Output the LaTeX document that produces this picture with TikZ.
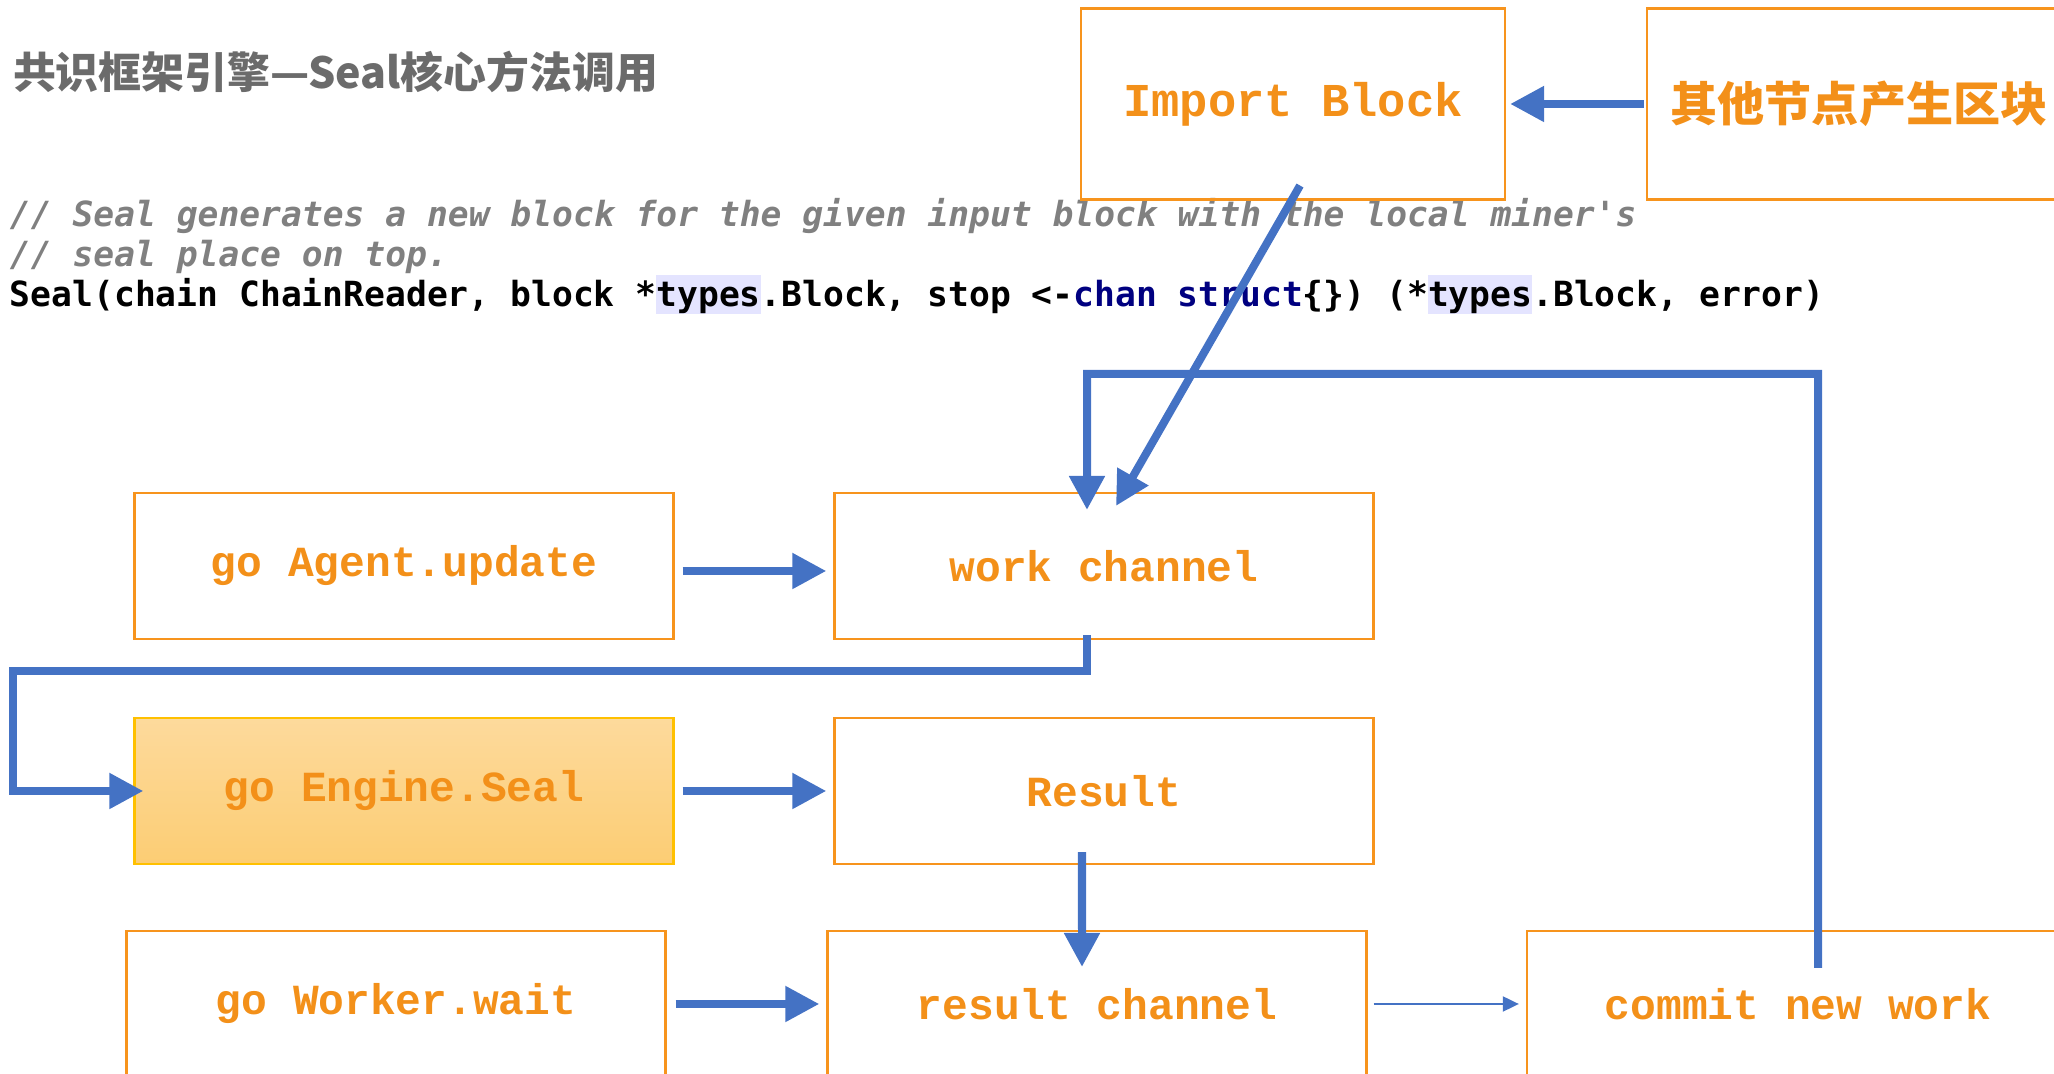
\documentclass[tikz,border=0pt]{standalone}
\usepackage{fontspec}
\setmonofont{Liberation Mono}
\newfontfamily\codefont{DejaVu Sans Mono}
\newfontfamily\cjkfont{Noto Sans CJK SC}
\usetikzlibrary{arrows.meta}
\definecolor{boxorange}{HTML}{F7941D}
\definecolor{textorange}{HTML}{F39019}
\definecolor{flowblue}{HTML}{4472C4}
\definecolor{titlegray}{HTML}{6B6B6B}
\definecolor{cmtgray}{HTML}{808080}
\definecolor{kwnavy}{HTML}{000080}
\definecolor{hilite}{HTML}{E4E4FF}
\definecolor{sealtop}{HTML}{FDDA9C}
\definecolor{sealbot}{HTML}{FCCD74}
\definecolor{sealedge}{HTML}{FFC000}
\newcommand\hlword[1]{{\setlength{\fboxsep}{0pt}\colorbox{hilite}{\rule[-0.2em]{0pt}{1.12em}#1}}}
\begin{document}
\begin{tikzpicture}[x=0.01cm,y=-0.01cm,inner sep=0pt,outer sep=0pt,
chanbox/.style={draw=boxorange,line width=0.025cm,minimum width=5.39cm,minimum height=1.46cm,text=textorange,font=\ttfamily\bfseries\fontsize{12.2pt}{15pt}\selectfont},
topbox/.style={chanbox,minimum width=4.24cm,minimum height=1.91cm},
flow/.style={draw=flowblue,line width=0.08cm,-{Triangle[length=0.34cm,width=0.34cm]}},
thinflow/.style={draw=flowblue,line width=0.02cm,-{Triangle[length=0.16cm,width=0.15cm]}}]
\useasboundingbox (0,0) rectangle (2054,1074);
\clip (0,0) rectangle (2054,1074);
% title and code
\draw (13,89) node[anchor=base west,text=titlegray,font=\cjkfont\bfseries\fontsize{12.2pt}{15pt}\selectfont] (title) {共识框架引擎—Seal核心方法调用};
\draw (10,227) node[anchor=base west,text=cmtgray,font=\codefont\bfseries\itshape\fontsize{9.85pt}{12pt}\selectfont] (cmt1) {// Seal generates a new block for the given input block with the local miner\textquotesingle s};
\draw (10,267) node[anchor=base west,text=cmtgray,font=\codefont\bfseries\itshape\fontsize{9.85pt}{12pt}\selectfont] (cmt2) {// seal place on top.};
\draw (10,307) node[anchor=base west,font=\codefont\bfseries\fontsize{9.85pt}{12pt}\selectfont] (sig) {Seal(chain ChainReader, block *\hlword{types}.Block, stop <-\textcolor{kwnavy}{chan struct}\{\}) (*\hlword{types}.Block, error)};
% boxes
\draw (1293,104) node[topbox,font=\ttfamily\bfseries\fontsize{13.4pt}{16pt}\selectfont] (import) {Import Block};
\draw (1859,104) node[topbox,font=\cjkfont\bfseries\fontsize{13.4pt}{16pt}\selectfont] (other) {其他节点产生区块};
\draw (404,566) node[chanbox] (agent) {go Agent.update};
\draw (1104,566) node[chanbox] (work) {work channel};
\draw (404,791) node[chanbox,draw=sealedge,top color=sealtop,bottom color=sealbot] (seal) {go Engine.Seal};
\draw (1104,791) node[chanbox] (result) {Result};
\draw (396,1004) node[chanbox] (waiter) {go Worker.wait};
\draw (1097,1004) node[chanbox] (reschan) {result channel};
\draw (1798,1004) node[chanbox,minimum width=5.42cm] (commit) {commit new work};
\coordinate (loopN) at (1818,374);
\coordinate (loopW) at (13,671);
% connectors
\draw[flow,shorten <=0.03cm,shorten >=0.05cm] (other) -- (import);
\draw[flow,shorten <=0.09cm,shorten >=0.08cm] ([yshift=-0.05cm]agent.east) -- ([yshift=-0.05cm]work.west);
\draw[flow,shorten <=0.09cm,shorten >=0.08cm] (seal) -- (result);
\draw[flow,shorten <=0.1cm,shorten >=0.08cm] (waiter) -- (reschan);
\draw[thinflow,shorten <=0.07cm,shorten >=0.08cm] (reschan) -- (commit);
\draw[flow] ([xshift=-0.22cm,yshift=0.12cm]result.south) -- ([xshift=-0.15cm,yshift=-0.36cm]reschan.north);
\draw[flow] ([xshift=0.2cm,yshift=-0.37cm]commit.north) -- (loopN) -| ([xshift=-0.17cm,yshift=-0.17cm]work.north);
\draw[flow] ([xshift=0.07cm,yshift=0.14cm]import.south) -- ([xshift=0.12cm,yshift=-0.13cm]work.north);
\draw[flow] ([xshift=-0.17cm,yshift=0.04cm]work.south) |- (loopW) |- ([xshift=0.09cm]seal.west);
\end{tikzpicture}
\end{document}
